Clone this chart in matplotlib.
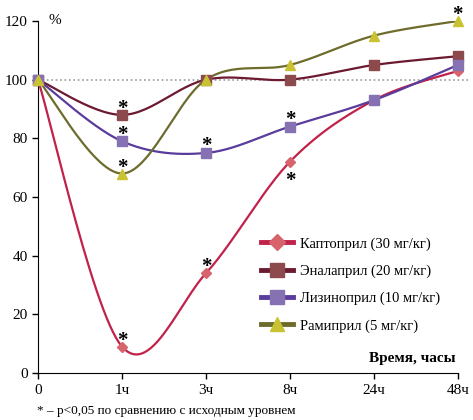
import numpy as np
import matplotlib.pyplot as plt
from matplotlib.lines import Line2D

plt.rcParams['font.family'] = ['Liberation Serif', 'DejaVu Serif']

time_labels = ['0', '1ч', '3ч', '8ч', '24ч', '48ч']
captopril = [100, 9, 34, 72, 93, 103]
enalapril = [100, 88, 100, 100, 105, 108]
lisinopril = [100, 79, 75, 84, 93, 105]
ramipril = [100, 68, 100, 105, 115, 120]

names = ['Каптоприл (30 мг/кг)', 'Эналаприл (20 мг/кг)',
         'Лизиноприл (10 мг/кг)', 'Рамиприл (5 мг/кг)']
series = [captopril, enalapril, lisinopril, ramipril]
line_colors = ['#c0224a', '#6b1a30', '#5a3c9c', '#6e6c2c']
marker_colors = ['#d7646c', '#8c4a4c', '#8672b2', '#c9c233']
markers = ['D', 's', 's', '^']
msizes = [5, 7, 7, 7]

# significance marks: (series index, time index, offset of star centre)
stars = [(1, 1, 4.2), (2, 1, 4.2), (3, 1, 4.2), (0, 1, 4.2), (0, 2, 4.2),
         (2, 2, 4.5), (2, 3, 4.6), (0, 3, -4.5), (3, 5, 4.2)]


def smooth(y, n=30):
    # Excel-like smoothed line (Catmull-Rom as cubic Bezier)
    x = np.arange(len(y), dtype=float)
    p = np.column_stack([x, np.array(y, dtype=float)])
    out = []
    for i in range(len(p) - 1):
        p0 = p[i - 1] if i > 0 else p[i]
        p3 = p[i + 2] if i + 2 < len(p) else p[i + 1]
        c1 = p[i] + (p[i + 1] - p0) / 6
        c2 = p[i + 1] - (p3 - p[i]) / 6
        t = np.linspace(0, 1, n)[:, None]
        seg = ((1 - t) ** 3 * p[i] + 3 * (1 - t) ** 2 * t * c1
               + 3 * (1 - t) * t ** 2 * c2 + t ** 3 * p[i + 1])
        out.append(seg)
    out = np.vstack(out)
    return out[:, 0], out[:, 1]


fig = plt.figure(figsize=(4.73, 4.2), dpi=100)
ax = fig.add_axes([0.0803, 0.112, 0.8877, 0.838])

ax.axhline(100, xmin=0, xmax=1.03, color='#999999', ls=':', lw=1.2, clip_on=False, zorder=1)

x = np.arange(len(time_labels))
handles = []
for y, lc, mc, m, ms, nm in zip(series, line_colors, marker_colors, markers, msizes, names):
    sx, sy = smooth(y)
    ax.plot(sx, sy, color=lc, lw=1.6, zorder=2)
    ax.plot(x, y, ls='none', marker=m, ms=ms, mfc=mc, mec=mc, zorder=3, clip_on=False)
    handles.append(Line2D([], [], color=lc, lw=3.5, marker=m, ms=ms + 3, mfc=mc, mec=mc))

for si, ti, off in stars:
    # the asterisk glyph sits about 3.9 units above its baseline
    ax.text(ti, series[si][ti] + off - 3.9, '*', ha='center', va='baseline',
            fontsize=15, fontweight='bold', color='black', clip_on=False)

ax.set_xlim(0, 5)
ax.set_ylim(0, 120)
ax.set_xticks(x)
ax.set_xticklabels(time_labels)
ax.set_yticks(range(0, 121, 20))
ax.spines['top'].set_visible(False)
ax.spines['right'].set_visible(False)
ax.tick_params(labelsize=11, length=4, width=1, direction='out')
ax.tick_params(axis='x', pad=4)

ax.text(0.12, 120, '%', fontsize=11, va='center')
ax.text(4.97, 5, 'Время, часы', fontsize=11, fontweight='bold', ha='right', va='center')

ax.legend(handles, names, loc='center left', bbox_to_anchor=(0.5, 0.25), frameon=False,
          fontsize=10.5, handlelength=2.2, labelspacing=0.95, handletextpad=0.5)

fig.text(0.078, 0.014, '* – p<0,05 по сравнению с исходным уровнем', fontsize=9.5, va='baseline')

fig.savefig('out.png', dpi=100)
